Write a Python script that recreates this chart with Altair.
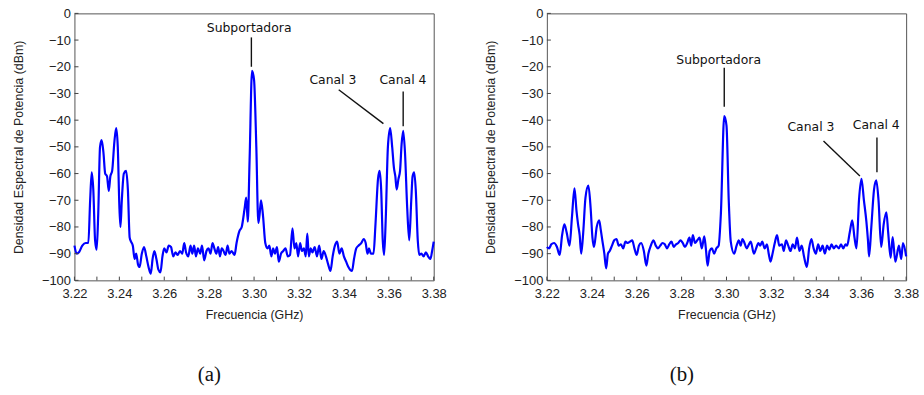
import altair as alt
import pandas as pd

# ---- Spectrum (a): frequency in GHz, power spectral density in dBm ----
freq_a = [
    3.2200, 3.2210, 3.2220, 3.2235, 3.2250, 3.2262, 3.2270, 3.2277, 3.2284, 3.2292,
    3.2299, 3.2306, 3.2314, 3.2321, 3.2329, 3.2337, 3.2345, 3.2353, 3.2360, 3.2368,
    3.2378, 3.2386, 3.2393, 3.2400, 3.2405, 3.2411, 3.2420, 3.2430, 3.2438, 3.2446,
    3.2452, 3.2460, 3.2468, 3.2475, 3.2483, 3.2490, 3.2500, 3.2510, 3.2520, 3.2530,
    3.2540, 3.2548, 3.2556, 3.2565, 3.2574, 3.2583, 3.2592, 3.2600, 3.2610, 3.2620,
    3.2630, 3.2640, 3.2650, 3.2660, 3.2670, 3.2680, 3.2689, 3.2697, 3.2707, 3.2717,
    3.2725, 3.2733, 3.2741, 3.2750, 3.2760, 3.2768, 3.2778, 3.2788, 3.2797, 3.2806,
    3.2815, 3.2823, 3.2832, 3.2840, 3.2848, 3.2856, 3.2864, 3.2873, 3.2882, 3.2890,
    3.2900, 3.2913, 3.2922, 3.2935, 3.2945, 3.2958, 3.2965, 3.2972, 3.2980, 3.2991,
    3.3000, 3.3010, 3.3019, 3.3025, 3.3031, 3.3040, 3.3050, 3.3060, 3.3068, 3.3077,
    3.3085, 3.3093, 3.3102, 3.3110, 3.3120, 3.3130, 3.3140, 3.3150, 3.3160, 3.3171,
    3.3180, 3.3188, 3.3196, 3.3205, 3.3213, 3.3222, 3.3230, 3.3237, 3.3244, 3.3252,
    3.3260, 3.3270, 3.3280, 3.3290, 3.3300, 3.3310, 3.3320, 3.3330, 3.3340, 3.3350,
    3.3360, 3.3370, 3.3380, 3.3390, 3.3400, 3.3410, 3.3420, 3.3436, 3.3445, 3.3455,
    3.3465, 3.3478, 3.3488, 3.3497, 3.3505, 3.3512, 3.3520, 3.3532, 3.3540, 3.3552,
    3.3559, 3.3566, 3.3573, 3.3579, 3.3586, 3.3596, 3.3606, 3.3615, 3.3623, 3.3629,
    3.3635, 3.3643, 3.3650, 3.3657, 3.3664, 3.3672, 3.3682, 3.3691, 3.3700, 3.3706,
    3.3713, 3.3720, 3.3729, 3.3736, 3.3745, 3.3755, 3.3765, 3.3775, 3.3785, 3.3793,
    3.3800,
]
psd_a = [
    -87.0, -90.0, -89.5, -87.0, -86.0, -86.0, -70.0, -59.5, -66.0, -85.0,
    -88.5, -75.0, -50.0, -47.5, -52.0, -60.0, -61.0, -66.5, -61.0, -59.0,
    -48.0, -43.0, -50.0, -72.0, -80.0, -70.0, -60.0, -59.0, -66.0, -84.0,
    -85.5, -87.0, -92.0, -90.0, -94.0, -95.0, -90.0, -87.5, -91.0, -95.0,
    -97.5, -92.0, -89.0, -92.0, -96.0, -97.0, -91.0, -88.0, -89.5, -87.0,
    -87.5, -91.0, -89.5, -90.5, -89.0, -90.0, -86.0, -89.5, -91.0, -87.0,
    -90.0, -87.0, -91.0, -88.0, -90.0, -87.0, -92.5, -89.0, -88.0, -90.0,
    -86.0, -88.0, -90.0, -87.5, -91.0, -88.0, -89.0, -90.5, -87.0, -90.0,
    -89.0, -90.5, -86.0, -81.5, -80.0, -73.0, -69.0, -78.0, -55.0, -21.5,
    -25.0, -50.0, -78.5, -75.0, -70.0, -76.0, -86.0, -88.0, -87.0, -91.0,
    -88.0, -90.0, -87.5, -93.0, -90.0, -89.0, -88.0, -91.0, -90.5, -80.5,
    -88.0, -86.0, -91.0, -86.0, -89.0, -88.0, -91.0, -82.5, -91.0, -88.0,
    -89.5, -87.5, -91.0, -87.0, -92.0, -89.0, -91.0, -94.0, -96.5, -91.0,
    -87.0, -85.5, -90.0, -88.0, -91.0, -93.0, -95.0, -96.5, -92.0, -88.0,
    -87.0, -86.0, -84.5, -86.0, -90.0, -88.0, -90.0, -90.0, -80.0, -62.0,
    -59.0, -66.0, -85.0, -90.5, -78.0, -50.0, -43.0, -50.0, -58.0, -61.0,
    -66.0, -62.0, -59.0, -49.0, -44.0, -52.0, -73.0, -85.0, -70.0, -61.0,
    -59.5, -66.0, -85.0, -90.5, -90.0, -91.0, -89.5, -91.0, -92.0, -89.0,
    -85.5,
]

# ---- Spectrum (b) ----
freq_b = [
    3.2200, 3.2210, 3.2220, 3.2232, 3.2245, 3.2257, 3.2268, 3.2278, 3.2288, 3.2301,
    3.2312, 3.2323, 3.2332, 3.2339, 3.2346, 3.2353, 3.2362, 3.2372, 3.2385, 3.2395,
    3.2403, 3.2410, 3.2422, 3.2433, 3.2440, 3.2447, 3.2456, 3.2464, 3.2472, 3.2480,
    3.2490, 3.2500, 3.2510, 3.2520, 3.2530, 3.2540, 3.2550, 3.2560, 3.2570, 3.2580,
    3.2590, 3.2600, 3.2610, 3.2620, 3.2632, 3.2643, 3.2652, 3.2663, 3.2675, 3.2685,
    3.2695, 3.2705, 3.2715, 3.2725, 3.2735, 3.2745, 3.2755, 3.2765, 3.2775, 3.2785,
    3.2795, 3.2805, 3.2815, 3.2825, 3.2835, 3.2843, 3.2850, 3.2860, 3.2870, 3.2880,
    3.2890, 3.2901, 3.2908, 3.2916, 3.2925, 3.2935, 3.2945, 3.2955, 3.2965, 3.2975,
    3.2990, 3.3000, 3.3010, 3.3019, 3.3034, 3.3045, 3.3055, 3.3063, 3.3071, 3.3080,
    3.3090, 3.3100, 3.3108, 3.3122, 3.3132, 3.3142, 3.3150, 3.3159, 3.3170, 3.3180,
    3.3188, 3.3196, 3.3205, 3.3215, 3.3225, 3.3235, 3.3247, 3.3255, 3.3265, 3.3275,
    3.3285, 3.3295, 3.3305, 3.3314, 3.3325, 3.3335, 3.3345, 3.3358, 3.3368, 3.3378,
    3.3388, 3.3398, 3.3408, 3.3418, 3.3428, 3.3438, 3.3448, 3.3458, 3.3468, 3.3478,
    3.3488, 3.3500, 3.3510, 3.3520, 3.3530, 3.3537, 3.3549, 3.3560, 3.3570, 3.3579,
    3.3590, 3.3601, 3.3612, 3.3623, 3.3630, 3.3635, 3.3645, 3.3657, 3.3667, 3.3677,
    3.3689, 3.3700, 3.3712, 3.3720, 3.3731, 3.3740, 3.3752, 3.3768, 3.3778, 3.3786,
    3.3800,
]
psd_b = [
    -87.5, -88.0, -86.5, -86.0, -87.5, -90.5, -83.0, -79.0, -82.0, -87.0,
    -76.0, -65.5, -74.0, -79.0, -83.0, -90.0, -82.0, -69.0, -64.5, -73.0,
    -84.0, -87.5, -80.0, -77.5, -81.0, -85.0, -90.0, -95.5, -90.0, -89.0,
    -87.0, -85.0, -84.5, -87.0, -86.5, -88.0, -85.5, -86.0, -85.5, -85.0,
    -88.0, -90.5, -87.0, -86.0, -89.0, -94.5, -90.0, -87.0, -85.0, -87.0,
    -88.0, -87.0, -86.0, -86.5, -88.0, -86.5, -85.5, -87.5, -86.5, -86.0,
    -85.0, -86.0, -87.5, -86.0, -84.0, -87.0, -83.0, -86.0, -85.0, -84.0,
    -88.0, -83.5, -88.0, -94.5, -89.0, -88.0, -90.0, -88.0, -87.0, -75.0,
    -38.5, -42.0, -70.0, -85.5, -90.0, -87.0, -85.0, -87.0, -84.5, -86.0,
    -88.0, -86.5, -85.5, -90.0, -88.0, -86.0, -87.0, -85.5, -88.0, -86.5,
    -90.0, -93.0, -90.0, -86.0, -83.0, -87.0, -86.5, -89.0, -85.0, -87.0,
    -89.0, -86.5, -88.0, -84.0, -89.0, -87.0, -91.0, -95.0, -88.0, -84.5,
    -88.0, -90.0, -86.5, -89.0, -87.0, -90.0, -87.0, -88.5, -86.5, -88.0,
    -87.0, -88.0, -86.5, -88.0, -86.5, -87.0, -82.0, -77.5, -84.0, -88.0,
    -70.0, -62.0, -70.0, -78.0, -85.0, -91.0, -80.0, -66.0, -62.5, -70.0,
    -87.5, -79.0, -74.5, -82.0, -91.5, -83.8, -93.0, -87.0, -92.0, -86.0,
    -91.0,
]

# ---- Labels and their leader lines (x in GHz, y in dBm) ----
note_text = ["Subportadora", "Canal 3", "Canal 4"]
note_x_a = [3.2978, 3.3351, 3.3663]
note_y_a = [-5.6, -24.9, -24.9]
lead_x_a = [3.2988, 3.3377, 3.3664]
lead_y_a = [-9.0, -28.6, -29.3]
lead_x2_a = [3.2988, 3.3576, 3.3664]
lead_y2_a = [-20.0, -41.3, -42.3]

note_x_b = [3.2965, 3.3376, 3.3667]
note_y_b = [-17.5, -42.4, -42.0]
lead_x_b = [3.2990, 3.3432, 3.3670]
lead_y_b = [-20.4, -47.8, -46.5]
lead_x2_b = [3.2990, 3.3594, 3.3670]
lead_y2_b = [-35.0, -60.9, -59.5]

# ---- Axis ticks ----
x_labels = [3.22, 3.24, 3.26, 3.28, 3.30, 3.32, 3.34, 3.36, 3.38]
x_minor = [3.22, 3.23, 3.24, 3.25, 3.26, 3.27, 3.28, 3.29, 3.30,
           3.31, 3.32, 3.33, 3.34, 3.35, 3.36, 3.37, 3.38]
y_labels = [0, -10, -20, -30, -40, -50, -60, -70, -80, -90, -100]

X_DOMAIN = [3.22, 3.38]
Y_DOMAIN = [-100, 0]
W, H = 362, 269

X_AXIS = alt.Axis(title="Frecuencia (GHz)", values=x_labels, format=".2f",
                  labelOverlap=False, labelFlush=False,
                  labelPadding=7, titlePadding=8)
Y_AXIS = alt.Axis(title="Densidad Espectral de Potencia (dBm)", values=y_labels,
                  format="d", labelOverlap=False, labelFlush=False,
                  labelPadding=4, titlePadding=16)


def panel(freq, psd, nx, ny, lx, ly, lx2, ly2, caption):
    xs = alt.Scale(domain=X_DOMAIN, nice=False, zero=False, padding=0)
    ys = alt.Scale(domain=Y_DOMAIN, nice=False, zero=False, padding=0)

    def X(field):
        return alt.X(field, scale=xs, axis=X_AXIS)

    def Y(field):
        return alt.Y(field, scale=ys, axis=Y_AXIS)

    spec = pd.DataFrame({"f": freq, "p": psd})
    notes = pd.DataFrame({"t": note_text, "x": nx, "y": ny})
    leads = pd.DataFrame({"x": lx, "y": ly, "x2": lx2, "y2": ly2})
    xt = pd.DataFrame({"v": x_minor, "lo": -100.0, "hi": -98.6})
    yt = pd.DataFrame({"v": y_labels, "lo": 3.22, "hi": 3.2218})

    line = alt.Chart(spec).mark_line(
        color="#0000FF", strokeWidth=2.2, interpolate="monotone"
    ).encode(x=X("f:Q"), y=Y("p:Q"))

    xticks = alt.Chart(xt).mark_rule(color="#444", strokeWidth=1).encode(
        x=X("v:Q"), y=Y("lo:Q"), y2="hi:Q")
    yticks = alt.Chart(yt).mark_rule(color="#444", strokeWidth=1).encode(
        y=Y("v:Q"), x=X("lo:Q"), x2="hi:Q")

    leaders = alt.Chart(leads).mark_rule(color="#111", strokeWidth=1.4).encode(
        x=X("x:Q"), y=Y("y:Q"), x2="x2:Q", y2="y2:Q")

    labels = alt.Chart(notes).mark_text(
        font="DejaVu Sans", fontSize=12.5, color="#111", baseline="middle"
    ).encode(x=X("x:Q"), y=Y("y:Q"), text="t:N")

    return alt.layer(line, xticks, yticks, leaders, labels).properties(
        width=W, height=H,
        title=alt.TitleParams(
            text=caption, orient="bottom", anchor="middle",
            font="Liberation Serif", fontSize=21, fontWeight="normal",
            color="#111", offset=44, dx=-45),
    )


left = panel(freq_a, psd_a, note_x_a, note_y_a, lead_x_a, lead_y_a,
             lead_x2_a, lead_y2_a, "(a)")
right = panel(freq_b, psd_b, note_x_b, note_y_b, lead_x_b, lead_y_b,
              lead_x2_b, lead_y2_b, "(b)")

chart = alt.hconcat(left, right, spacing=37).properties(
    padding={"left": 12, "top": 5, "right": 4, "bottom": 4},
    background="white",
).configure_view(
    stroke="#555", strokeWidth=1
).configure_axis(
    labelFont="Liberation Sans", labelFontSize=13, labelColor="#222",
    titleFont="Liberation Sans", titleFontSize=12.5, titleFontWeight="normal",
    titleColor="#222", domain=False, ticks=False, grid=False,
)

chart.save("out.html", embed_options={"renderer": "svg", "actions": False})
